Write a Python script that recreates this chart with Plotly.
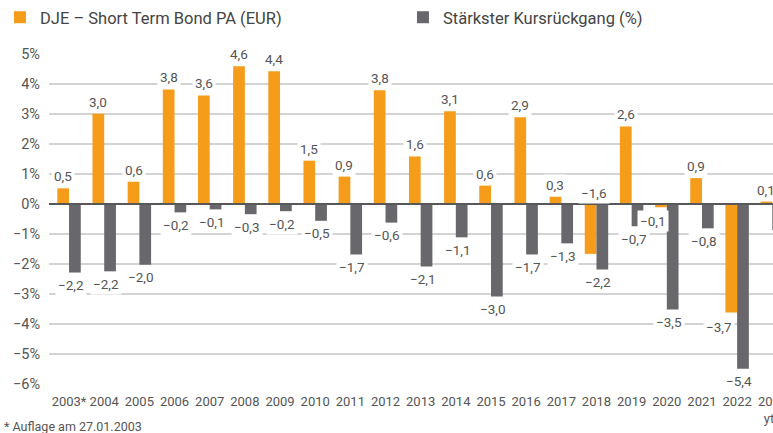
import plotly.graph_objects as go

years = ["2003*", "2004", "2005", "2006", "2007", "2008", "2009", "2010", "2011", "2012",
         "2013", "2014", "2015", "2016", "2017", "2018", "2019", "2020", "2021", "2022", "2023<br>ytd"]
fund = [0.52, 3.0, 0.74, 3.81, 3.61, 4.58, 4.41, 1.44, 0.91, 3.78, 1.58, 3.08, 0.61, 2.88,
        0.24, -1.66, 2.58, -0.11, 0.86, -3.61, 0.08]
fund_labels = ["0,5", "3,0", "0,6", "3,8", "3,6", "4,6", "4,4", "1,5", "0,9", "3,8", "1,6", "3,1",
               "0,6", "2,9", "0,3", "−1,6", "2,6", "−0,1", "0,9", "−3,7", "0,1"]
drawdown = [-2.28, -2.24, -2.02, -0.28, -0.18, -0.34, -0.24, -0.56, -1.68, -0.62, -2.08, -1.11,
            -3.08, -1.68, -1.31, -2.18, -0.74, -3.51, -0.81, -5.48, -0.87]
drawdown_labels = ["−2,2", "−2,2", "−2,0", "−0,2", "−0,1", "−0,3", "−0,2", "−0,5", "−1,7", "−0,6",
                   "−2,1", "−1,1", "−3,0", "−1,7", "−1,3", "−2,2", "−0,7", "−3,5", "−0,8", "−5,4", "−0,9"]
y_ticks = [-6, -5, -4, -3, -2, -1, 0, 1, 2, 3, 4, 5]
y_tick_labels = ["−6%", "−5%", "−4%", "−3%", "−2%", "−1%", "0%", "1%", "2%", "3%", "4%", "5%"]

ORANGE = "#F59C1B"
GRAY = "#68686C"
TXT = "#555555"
FONT = "Roboto, sans-serif"

xs = list(range(len(years)))
fig = go.Figure()
fig.add_trace(go.Bar(x=xs, y=fund, name="DJE – Short Term Bond PA (EUR)", legend="legend",
                     marker=dict(color=ORANGE, line=dict(width=0))))
fig.add_trace(go.Bar(x=xs, y=drawdown, name="Stärkster Kursrückgang (%)", legend="legend2",
                     marker=dict(color=GRAY, line=dict(width=0))))

half = 1 / 6
annotations = []
# special label placements (style only)
special_fund = {15: dict(ybase="zero", yshift=10.5, xshift=3),
                17: dict(yshift=-13.5, xshift=-8),
                19: dict(yshift=-14.5, xshift=-12.5)}
LBL = dict(size=13.5, color=TXT, family=FONT)
for i, (v, t) in enumerate(zip(fund, fund_labels)):
    sp = special_fund.get(i, {})
    yv = 0 if sp.get("ybase") == "zero" else v
    ys = sp.get("yshift", 12 if v >= 0 else -12.5)
    annotations.append(dict(x=i - half, y=yv, text=t, showarrow=False, xanchor="center",
                            yanchor="middle", yshift=ys, xshift=sp.get("xshift", 0),
                            bgcolor="white", borderpad=2, font=LBL))
for i, (v, t) in enumerate(zip(drawdown, drawdown_labels)):
    annotations.append(dict(x=i + half, y=v, text=t, showarrow=False, xanchor="center",
                            yanchor="middle", yshift=-12.5, xshift=-4,
                            bgcolor="white", borderpad=2, font=LBL))
annotations.append(dict(x=0, y=0, xref="paper", yref="paper", xanchor="left", yanchor="middle",
                        xshift=-47, yshift=-41, text="* Auflage am 27.01.2003", showarrow=False,
                        font=dict(size=12.5, color=TXT, family=FONT)))

# last category label drawn as annotation so it is cut at the page edge like the original
XTICK_FONT = dict(size=13, color=TXT, family=FONT)
tick_text = years[:-1] + [""]
annotations.append(dict(x=xs[-1], y=0, xref="x", yref="paper", xanchor="center", yanchor="top",
                        yshift=-7, text=years[-1], showarrow=False, font=XTICK_FONT, borderpad=1))

LEG_FONT = dict(size=16.5, color="#444", family=FONT)
fig.update_layout(
    width=773, height=433,
    margin=dict(l=49, r=0, t=52.7, b=48.1, pad=0),
    barmode="group", bargap=1 / 3, bargroupgap=0,
    plot_bgcolor="white", paper_bgcolor="white",
    font=dict(family=FONT, color=TXT, size=13),
    showlegend=True,
    legend=dict(orientation="h", x=0, y=1, xref="container", yref="container",
                xanchor="left", yanchor="top", font=LEG_FONT),
    legend2=dict(orientation="h", x=0.5213, y=1, xref="container", yref="container",
                 xanchor="left", yanchor="top", font=LEG_FONT),
    annotations=annotations,
    shapes=[dict(type="line", xref="paper", yref="y", x0=0, x1=1, y0=0, y1=0,
                 line=dict(color="#58585A", width=2), layer="above")],
)
fig.update_xaxes(range=[-0.57, 20.02], tickvals=xs, ticktext=tick_text, showgrid=False,
                 zeroline=False, showline=False, ticks="", ticklabelstandoff=7, tickangle=0,
                 tickfont=XTICK_FONT)
fig.update_yaxes(range=[-6.02, 5.02], tickvals=y_ticks, ticktext=y_tick_labels,
                 showgrid=True, gridcolor="#D3D3D3", gridwidth=1.5,
                 zeroline=False, showline=False, ticks="", ticklabelstandoff=8,
                 tickfont=dict(size=14.5, color=TXT, family=FONT))

fig.write_html("out.html")
